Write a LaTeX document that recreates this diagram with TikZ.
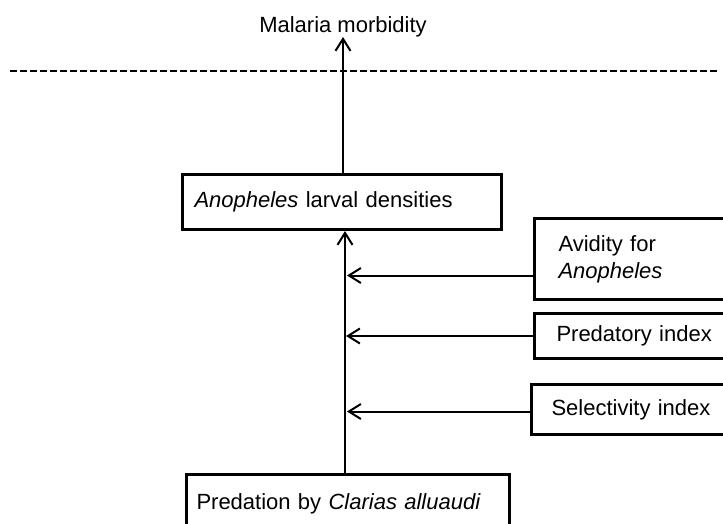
\documentclass[tikz,border=0pt]{standalone}
\usepackage{fontspec}
\setmainfont{Liberation Sans}
\usetikzlibrary{arrows.meta,calc}
\begin{document}
\begin{tikzpicture}[x=0.5pt,y=-0.5pt,
  box/.style={draw, line width=1.5pt, rectangle, anchor=north west, align=left,
    font=\fontsize{11}{13.5}\selectfont, inner ysep=0pt},
  arr/.style={line width=1pt, -{Straight Barb[length=6pt,width=7.5pt,line width=1pt]}},
  lbl/.style={font=\fontsize{11}{13.5}\selectfont, inner sep=0pt}]
\useasboundingbox (0,0) rectangle (723,524);
\clip (0,0) rectangle (723,524);
% top label
\node[lbl, anchor=south] (mal) at (343,37) {Malaria morbidity};
% dashed separator
\draw[line width=1pt, dash pattern=on 3.5pt off 1.5pt] (10,71) -- (718,71);
% boxes
\node[box, minimum width=159.5pt, minimum height=27.5pt, inner xsep=6pt, text width=147.5pt]
  (anoph) at (181,173) {\textit{Anopheles} larval densities};
\node[box, minimum width=110pt, minimum height=40.5pt, inner xsep=12pt, text width=86pt]
  (avid) at (533,217) {Avidity for\\\textit{Anopheles}};
\node[box, minimum width=110pt, minimum height=22.5pt, inner xsep=11pt, text width=88pt]
  (predx) at (533,312) {Predatory index};
\node[box, minimum width=110pt, minimum height=25pt, inner xsep=10pt, text width=90pt]
  (selx) at (530,383) {Selectivity index};
\node[box, minimum width=161.5pt, minimum height=29pt, inner xsep=5pt, text width=151.5pt]
  (pred) at (185,473) {Predation by \textit{Clarias alluaudi}};
% connectors
\draw[arr] (anoph.north -| 343,0) -- (mal.south -| 343,0);
\draw[arr] (pred.north -| 345,0) -- (anoph.south -| 345,0);
\draw[arr] ([yshift=-8.25pt]avid.west) -- ([yshift=-8.25pt]avid.west -| 347,0);
\draw[arr] (predx.west) -- (predx.west -| 346,0);
\draw[arr] ([yshift=-1pt]selx.west) -- ([yshift=-1pt]selx.west -| 347,0);
\end{tikzpicture}
\end{document}
